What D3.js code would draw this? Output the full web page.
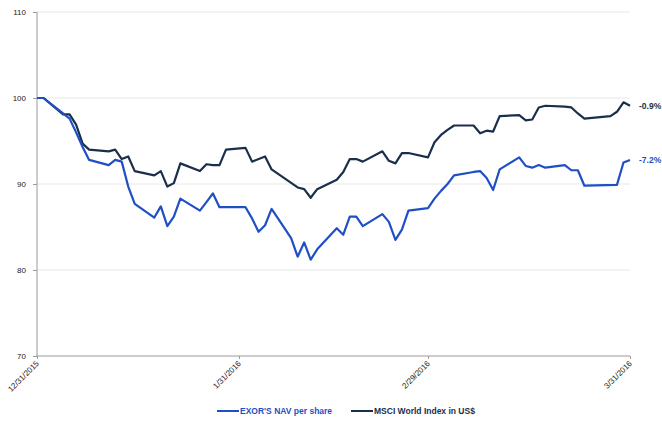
<!DOCTYPE html>
<html>
<head>
<meta charset="utf-8">
<script src="https://cdn.jsdelivr.net/npm/d3@7"></script>
<style>
  body { margin: 0; background: #fff; }
  svg { display: block; font-family: "Liberation Sans", Arial, sans-serif; }
  .grid line { stroke: #e8e8e8; stroke-width: 1; }
  .axis path, .axis line { stroke: #9a9a9a; }
  .axis text { fill: #222; font-size: 8px; }
</style>
</head>
<body>
<div id="chart"></div>
<script>
// EXOR NAV per share vs MSCI World Index (rebased to 100 at 12/31/2015)

const msciDates = [
  "2015-12-31","2016-01-01","2016-01-04","2016-01-05","2016-01-06","2016-01-07","2016-01-08",
  "2016-01-11","2016-01-12","2016-01-13","2016-01-14","2016-01-15","2016-01-18","2016-01-19",
  "2016-01-20","2016-01-21","2016-01-22","2016-01-25","2016-01-26","2016-01-27","2016-01-28",
  "2016-01-29","2016-02-01","2016-02-02","2016-02-04","2016-02-05","2016-02-09","2016-02-10",
  "2016-02-11","2016-02-12","2016-02-15","2016-02-16","2016-02-17","2016-02-18","2016-02-19",
  "2016-02-22","2016-02-23","2016-02-24","2016-02-25","2016-02-26","2016-02-29","2016-03-01",
  "2016-03-02","2016-03-03","2016-03-04","2016-03-07","2016-03-08","2016-03-09","2016-03-10",
  "2016-03-11","2016-03-14","2016-03-15","2016-03-16","2016-03-17","2016-03-18","2016-03-21",
  "2016-03-22","2016-03-23","2016-03-24","2016-03-28","2016-03-29","2016-03-30","2016-03-31"
];
const msciValues = [
  100, 100, 98.1, 98.1, 96.9, 94.7, 94.0,
  93.8, 94.0, 92.9, 93.2, 91.5, 91.0, 91.5,
  89.7, 90.1, 92.4, 91.5, 92.3, 92.2, 92.2,
  94.0, 94.2, 92.6, 93.2, 91.7, 89.6, 89.4,
  88.4, 89.4, 90.5, 91.4, 92.9, 92.9, 92.6,
  93.8, 92.7, 92.4, 93.6, 93.6, 93.1, 94.85,
  95.7, 96.3, 96.8, 96.8, 95.9, 96.2, 96.1,
  97.9, 98.0, 97.4, 97.5, 98.9, 99.1, 99.0,
  98.9, 98.2, 97.6, 97.9, 98.4, 99.5, 99.1
];

const exorDates = [
  "2015-12-31","2016-01-01","2016-01-04","2016-01-05","2016-01-06","2016-01-07","2016-01-08",
  "2016-01-11","2016-01-12","2016-01-13","2016-01-14","2016-01-15","2016-01-18","2016-01-19",
  "2016-01-20","2016-01-21","2016-01-22","2016-01-25","2016-01-26","2016-01-27","2016-01-28",
  "2016-01-29","2016-02-01","2016-02-02","2016-02-03","2016-02-04","2016-02-05","2016-02-08",
  "2016-02-09","2016-02-10","2016-02-11","2016-02-12","2016-02-15","2016-02-16","2016-02-17",
  "2016-02-18","2016-02-19","2016-02-22","2016-02-23","2016-02-24","2016-02-25","2016-02-26",
  "2016-02-29","2016-03-01","2016-03-02","2016-03-03","2016-03-04","2016-03-07","2016-03-08",
  "2016-03-09","2016-03-10","2016-03-11","2016-03-14","2016-03-15","2016-03-16","2016-03-17",
  "2016-03-18","2016-03-21","2016-03-22","2016-03-23","2016-03-24","2016-03-29","2016-03-30",
  "2016-03-31"
];
const exorValues = [
  100, 100, 98.2, 97.6, 96.0, 94.3, 92.8,
  92.2, 92.8, 92.6, 89.7, 87.7, 86.1, 87.4,
  85.1, 86.2, 88.3, 86.9, 87.9, 88.9, 87.3,
  87.3, 87.3, 86.0, 84.45, 85.2, 87.1, 83.7,
  81.55, 83.2, 81.2, 82.4, 84.85, 84.1, 86.2,
  86.2, 85.1, 86.5, 85.6, 83.5, 84.7, 86.9,
  87.2, 88.3, 89.2, 90.0, 91.0, 91.4, 91.5,
  90.7, 89.3, 91.7, 93.1, 92.1, 91.9, 92.2,
  91.9, 92.2, 91.6, 91.6, 89.8, 89.9, 92.5,
  92.8
];

const yTicks = [70, 80, 90, 100, 110];
const xTicks = ["2015-12-31", "2016-01-31", "2016-02-29", "2016-03-31"];
const seriesNames = ["EXOR'S NAV per share", "MSCI World Index in US$"];
const endLabels = ["-7.2%", "-0.9%"];

const COLORS = ["#1f4fc4", "#1a2f4b"];

const W = 662, H = 423;
const parse = d3.utcParse("%Y-%m-%d");
const fmt = d3.utcFormat("%-m/%-d/%Y");

const svg = d3.select("#chart").append("svg")
    .attr("width", W)
    .attr("height", H);

const x = d3.scaleUtc()
    .domain([parse(xTicks[0]), parse(xTicks[xTicks.length - 1])])
    .range([37, 630]);

const y = d3.scaleLinear()
    .domain([70, 110])
    .range([356, 12]);

// horizontal gridlines
svg.append("g")
    .attr("class", "grid")
    .selectAll("line")
    .data(yTicks.slice(1))
    .join("line")
    .attr("x1", x.range()[0])
    .attr("x2", x.range()[1])
    .attr("y1", d => y(d))
    .attr("y2", d => y(d));

// y axis
const yAxis = svg.append("g")
    .attr("class", "axis")
    .attr("transform", `translate(${x.range()[0]},0)`)
    .call(d3.axisLeft(y).tickValues(yTicks).tickSize(4).tickPadding(7));
yAxis.select(".domain").attr("d", `M0,${y(70)}V${y(110)}`);
yAxis.selectAll("text").attr("dy", "0.35em");

// x axis, labels rotated so they end under their tick
const xAxis = svg.append("g")
    .attr("class", "axis")
    .attr("transform", `translate(0,${y(70)})`)
    .call(d3.axisBottom(x).tickValues(xTicks.map(parse)).tickFormat(fmt).tickSize(3));
xAxis.select(".domain").attr("d", `M${x.range()[0]},0H${x.range()[1]}`);
xAxis.selectAll("text")
    .attr("x", 0)
    .attr("y", 0)
    .attr("text-anchor", "end")
    .attr("font-size", "8.5px")
    .attr("dy", "0.35em")
    .attr("transform", "translate(0,6) rotate(-45)");

// lines
const series = [
    {dates: exorDates, values: exorValues},
    {dates: msciDates, values: msciValues}
];

const line = d3.line()
    .x(d => x(d[0]))
    .y(d => y(d[1]));

// draw MSCI first so EXOR sits on top where they overlap at the start
[1, 0].forEach(i => {
    const pts = series[i].dates.map((d, j) => [parse(d), series[i].values[j]]);
    svg.append("path")
        .attr("d", line(pts))
        .attr("fill", "none")
        .attr("stroke", COLORS[i])
        .attr("stroke-width", 2.2)
        .attr("stroke-linejoin", "round");

    const last = pts[pts.length - 1];
    svg.append("text")
        .attr("x", x(last[0]) + 9)
        .attr("y", y(last[1]) + 3)
        .attr("font-size", "8.5px")
        .attr("font-weight", "bold")
        .attr("fill", COLORS[i])
        .text(endLabels[i]);
});

// legend
const legendX = [217, 351];
seriesNames.forEach((name, i) => {
    const g = svg.append("g").attr("transform", `translate(${legendX[i]},411)`);
    g.append("line")
        .attr("x1", 0).attr("x2", 22)
        .attr("stroke", COLORS[i])
        .attr("stroke-width", 2);
    g.append("text")
        .attr("x", 23)
        .attr("y", 3)
        .attr("font-size", "8.5px")
        .attr("font-weight", "bold")
        .attr("fill", COLORS[i])
        .text(name);
});
</script>
</body>
</html>
